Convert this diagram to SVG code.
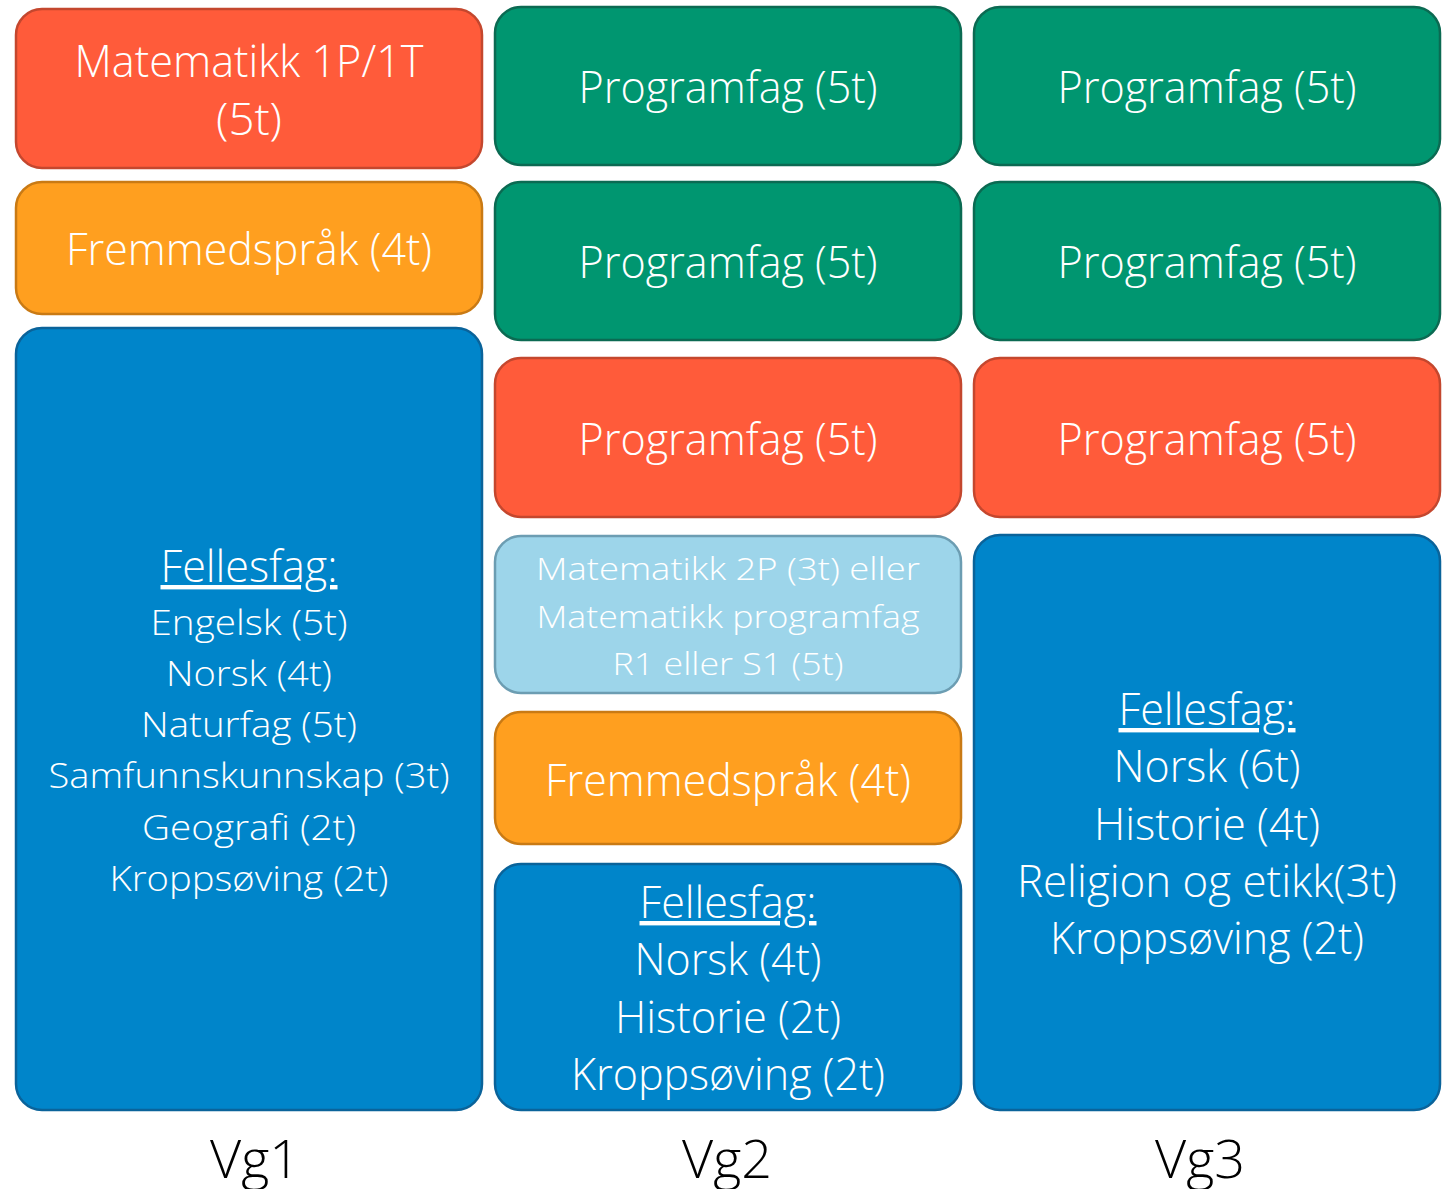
<svg xmlns="http://www.w3.org/2000/svg" width="1443" height="1189" viewBox="0 0 1443 1189">
<style>
.box{stroke-width:2.5}
.red{fill:#FF5B3A;stroke:#C4472E}
.grn{fill:#009670;stroke:#0B6A52}
.org{fill:#FF9F1F;stroke:#C97A14}
.blu{fill:#0085CA;stroke:#0A639A}
.lbl{fill:#9DD5EA;stroke:#6C9DB2}
text{font-family:"Open Sans","Noto Sans","Liberation Sans",sans-serif;fill:#fff;text-anchor:middle;font-weight:300}
.big{font-size:44px}
.mid{font-size:35px}
.sm{font-size:31px}
.u{text-decoration:underline}
.vg{font-size:54px;fill:#000}
</style>
<rect width="1443" height="1189" fill="#fff"/>
<g id="vg1-matematikk"><rect class="box red" x="16" y="9" width="466" height="159" rx="26"/>
<text class="big" x="249" y="77" textLength="349" lengthAdjust="spacingAndGlyphs">Matematikk 1P/1T</text>
<text class="big" x="249" y="135" textLength="66" lengthAdjust="spacingAndGlyphs">(5t)</text></g>
<g id="vg1-fremmedsprak"><rect class="box org" x="16" y="182" width="466" height="132" rx="26"/>
<text class="big" x="249" y="265" textLength="366" lengthAdjust="spacingAndGlyphs">Fremmedspråk (4t)</text></g>
<g id="vg1-fellesfag"><rect class="box blu" x="16" y="328" width="466" height="782" rx="26"/>
<text class="big u" x="249" y="582" textLength="177" lengthAdjust="spacingAndGlyphs">Fellesfag:</text>
<text class="mid" x="249" y="635" textLength="197" lengthAdjust="spacingAndGlyphs">Engelsk (5t)</text>
<text class="mid" x="249" y="686" textLength="166" lengthAdjust="spacingAndGlyphs">Norsk (4t)</text>
<text class="mid" x="249" y="737" textLength="216" lengthAdjust="spacingAndGlyphs">Naturfag (5t)</text>
<text class="mid" x="249" y="788" textLength="401" lengthAdjust="spacingAndGlyphs">Samfunnskunnskap (3t)</text>
<text class="mid" x="249" y="840" textLength="214" lengthAdjust="spacingAndGlyphs">Geografi (2t)</text>
<text class="mid" x="249" y="891" textLength="279" lengthAdjust="spacingAndGlyphs">Kroppsøving (2t)</text></g>

<g id="vg2-programfag1"><rect class="box grn" x="495" y="7" width="466" height="158" rx="26"/>
<text class="big" x="728" y="103" textLength="299" lengthAdjust="spacingAndGlyphs">Programfag (5t)</text></g>
<g id="vg2-programfag2"><rect class="box grn" x="495" y="182" width="466" height="158" rx="26"/>
<text class="big" x="728" y="278" textLength="299" lengthAdjust="spacingAndGlyphs">Programfag (5t)</text></g>
<g id="vg2-programfag3"><rect class="box red" x="495" y="358" width="466" height="159" rx="26"/>
<text class="big" x="728" y="455" textLength="299" lengthAdjust="spacingAndGlyphs">Programfag (5t)</text></g>
<g id="vg2-matematikk"><rect class="box lbl" x="495" y="536" width="466" height="157" rx="26"/>
<text class="sm" x="728" y="580" textLength="384" lengthAdjust="spacingAndGlyphs">Matematikk 2P (3t) eller</text>
<text class="sm" x="728" y="628" textLength="383" lengthAdjust="spacingAndGlyphs">Matematikk programfag</text>
<text class="sm" x="728" y="675" textLength="231" lengthAdjust="spacingAndGlyphs">R1 eller S1 (5t)</text></g>
<g id="vg2-fremmedsprak"><rect class="box org" x="495" y="712" width="466" height="132" rx="26"/>
<text class="big" x="728" y="796" textLength="366" lengthAdjust="spacingAndGlyphs">Fremmedspråk (4t)</text></g>
<g id="vg2-fellesfag"><rect class="box blu" x="495" y="864" width="466" height="246" rx="26"/>
<text class="big u" x="728" y="918" textLength="177" lengthAdjust="spacingAndGlyphs">Fellesfag:</text>
<text class="big" x="728" y="975" textLength="187" lengthAdjust="spacingAndGlyphs">Norsk (4t)</text>
<text class="big" x="728" y="1033" textLength="226" lengthAdjust="spacingAndGlyphs">Historie (2t)</text>
<text class="big" x="728" y="1090" textLength="314" lengthAdjust="spacingAndGlyphs">Kroppsøving (2t)</text></g>

<g id="vg3-programfag1"><rect class="box grn" x="974" y="7" width="466" height="158" rx="26"/>
<text class="big" x="1207" y="103" textLength="299" lengthAdjust="spacingAndGlyphs">Programfag (5t)</text></g>
<g id="vg3-programfag2"><rect class="box grn" x="974" y="182" width="466" height="158" rx="26"/>
<text class="big" x="1207" y="278" textLength="299" lengthAdjust="spacingAndGlyphs">Programfag (5t)</text></g>
<g id="vg3-programfag3"><rect class="box red" x="974" y="358" width="466" height="159" rx="26"/>
<text class="big" x="1207" y="455" textLength="299" lengthAdjust="spacingAndGlyphs">Programfag (5t)</text></g>
<g id="vg3-fellesfag"><rect class="box blu" x="974" y="535" width="466" height="575" rx="26"/>
<text class="big u" x="1207" y="725" textLength="177" lengthAdjust="spacingAndGlyphs">Fellesfag:</text>
<text class="big" x="1207" y="782" textLength="187" lengthAdjust="spacingAndGlyphs">Norsk (6t)</text>
<text class="big" x="1207" y="840" textLength="226" lengthAdjust="spacingAndGlyphs">Historie (4t)</text>
<text class="big" x="1207" y="897" textLength="380" lengthAdjust="spacingAndGlyphs">Religion og etikk(3t)</text>
<text class="big" x="1207" y="954" textLength="314" lengthAdjust="spacingAndGlyphs">Kroppsøving (2t)</text></g>

<g id="connectors"></g>
<g id="labels">
<text class="vg" x="255" y="1178" textLength="90" lengthAdjust="spacingAndGlyphs">Vg1</text>
<text class="vg" x="727" y="1178" textLength="90" lengthAdjust="spacingAndGlyphs">Vg2</text>
<text class="vg" x="1200" y="1178" textLength="90" lengthAdjust="spacingAndGlyphs">Vg3</text>
</g>
</svg>
